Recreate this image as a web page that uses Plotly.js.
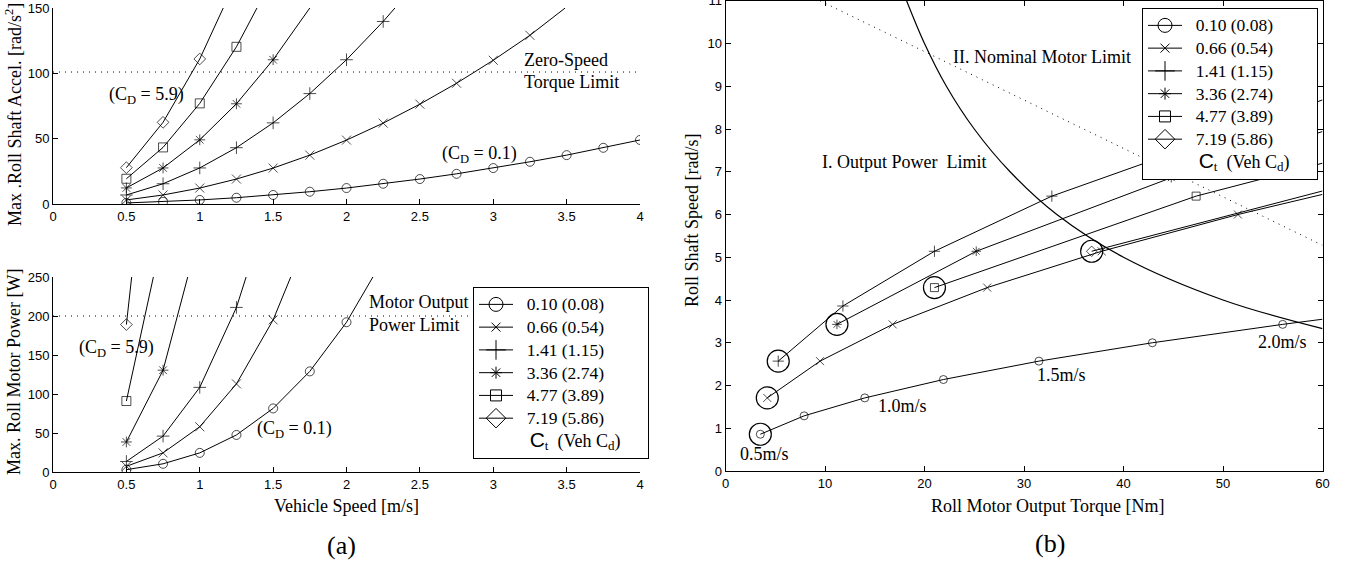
<!DOCTYPE html>
<html><head><meta charset="utf-8">
<script src="https://cdn.plot.ly/plotly-3.0.1.min.js"></script>
<style>html,body{margin:0;padding:0;background:#fff}#chart{width:1348px;height:565px}</style>
</head><body><div id="chart"></div>
<script>
// ---------------- DATA ----------------
const seriesNames = ['0.10 (0.08)','0.66 (0.54)','1.41 (1.15)','3.36 (2.74)','4.77 (3.89)','7.19 (5.86)'];
const footerParts = ['C', 't', '  (Veh C', 'd', ')'];

// (a) top: max roll shaft acceleration [rad/s^2] vs vehicle speed [m/s]
const accelSpeed = [0.5,0.75,1.0,1.25,1.5,1.75,2.0,2.25,2.5,2.75,3.0,3.25,3.5,3.75,4.0];
const accelC010 = [0.8,1.7,3.1,4.8,6.9,9.4,12.2,15.5,19.1,23.1,27.5,32.3,37.4,43.0,49.0];
const accelC066 = [3.1,6.9,12.2,19.1,27.5,37.4,48.9,61.9,76.4,92.4,110,129.1];
const accelC141 = [6.9,15.5,27.6,43.1,62.1,84.5,110.4,139.7];
const accelC336 = [12.3,27.6,49.1,76.7,110.4];
const accelC477 = [19.3,43.3,77.0,120.3];
const accelC719 = [27.8,62.5,111.0];
const accelExitSpeed = [null,3.49,2.33,1.75,1.39,1.16];
const accelExitValue = [null,150,150,150,150,150];
const accelLimit = 101;

// (a) bottom: max roll motor power [W] vs vehicle speed [m/s]
const powerSpeed = [0.5,0.75,1.0,1.25,1.5,1.75,2.0];
const powerC010 = [3.0,10.5,24.5,47.5,81.5,129,192];
const powerC066 = [7.3,24.5,58,113,195];
const powerC141 = [13.5,46,108.5,211];
const powerC336 = [38.5,130.5];
const powerC477 = [91];
const powerC719 = [189];
const powerExitSpeed = [2.18,1.62,1.316,0.918,0.684,0.536];
const powerExitValue = [250,250,250,250,250,250];
const powerLimit = 200;

// (b) roll shaft speed [rad/s] vs roll motor output torque [Nm]
const torqueC010 = [3.5,7.9,14.0,21.9,31.5,42.9,56.0];
const shaftC010  = [0.86,1.29,1.71,2.14,2.57,3.0,3.43];
const torqueC066 = [4.2,9.5,16.8,26.3,37.8,51.5];
const shaftC066  = [1.71,2.57,3.43,4.29,5.14,6.0];
const torqueC141 = [5.3,11.8,21.0,32.8];
const shaftC141  = [2.57,3.86,5.14,6.43];
const torqueC336 = [11.2,25.2,44.8];
const shaftC336  = [3.43,5.14,6.86];
const torqueC477 = [21.0,47.3];
const shaftC477  = [4.29,6.43];
const torqueC719 = [36.8];
const shaftC719  = [5.14];
const torqueEdge = [60,60,60,60,60,60];
const shaftAtEdge = [3.55,6.47,8.68,7.94,7.2,6.55];

// limits in (b)
const powerLimitTorque = [18.2,20,22.2,25,28.6,33.3,40,50,60];
const powerLimitShaft  = [11,10,9,8,7,6,5,4,3.33];
const nominalLimitTorque = [9.5,60];
const nominalLimitShaft  = [11,5.28];

// tick values
const speedTicks = [0,0.5,1,1.5,2,2.5,3,3.5,4];
const accelTicks = [0,50,100,150];
const powerTicks = [0,50,100,150,200,250];
const torqueTicks = [0,10,20,30,40,50,60];
const shaftTicks = [0,1,2,3,4,5,6,7,8,9,10,11];

// ---------------- STYLE / BUILD ----------------
const W = 1348, H = 565;
const px = x => x / W, py = y => 1 - y / H;
const serif = 'Liberation Serif', sans = 'Liberation Sans';
const symbols = ['circle-open','x-thin-open','cross-thin-open','asterisk-open','square-open','diamond-open'];
const legendSymbolSize = [14, 9, 14, 10, 11, 15];
const legendText = n => '<span style="font-size:17.5px">\u00a0\u00a0' + n + '</span>';
const legendFooter =
  '<span style="font-family:Liberation Sans;font-size:21px">\u00a0\u00a0' + footerParts[0] + '</span>' +
  '<sub><span style="font-size:13px">' + footerParts[1] + '</span></sub>' +
  '<span style="font-size:18px">' + footerParts[2] + '</span>' +
  '<sub><span style="font-size:13px">' + footerParts[3] + '</span></sub>' +
  '<span style="font-size:18px">' + footerParts[4] + '\u00a0\u00a0\u00a0\u00a0\u00a0</span>';
const traces = [];

function addSeries(xs, ys, ex, ey, xa, ya, i, msize) {
  const x = xs.slice(0, ys.length), y = ys.slice();
  const size = y.map(() => msize);
  if (ex != null) { x.push(ex); y.push(ey); size.push(0); }
  traces.push({
    type: 'scatter', mode: 'lines+markers', x: x, y: y, xaxis: xa, yaxis: ya,
    showlegend: false,
    line: {color: 'black', width: 1},
    marker: {symbol: symbols[i], size: size, color: 'black', line: {color: 'black', width: 1}},
    hoverinfo: 'skip'
  });
}
function addLegendEntries(legendId, xa, ya) {
  seriesNames.forEach((n, i) => traces.push({
    type: 'scatter', mode: 'lines+markers', x: [null], y: [null], xaxis: xa, yaxis: ya,
    name: legendText(n), showlegend: true, legend: legendId, hoverinfo: 'skip',
    line: {color: 'black', width: 1},
    marker: {symbol: symbols[i], size: legendSymbolSize[i], color: 'black', line: {color: 'black', width: 1}}
  }));
  traces.push({type: 'scatter', mode: 'lines', x: [null], y: [null], xaxis: xa, yaxis: ya,
    name: legendFooter, showlegend: true, legend: legendId,
    line: {color: 'rgba(0,0,0,0)', width: 0}, hoverinfo: 'skip'});
}
function addLine(x, y, xa, ya, dash) {
  traces.push({type: 'scatter', mode: 'lines', x: x, y: y, xaxis: xa, yaxis: ya, showlegend: false,
    line: {color: 'black', width: 1, dash: dash || 'solid', shape: 'linear'}, hoverinfo: 'skip'});
}

// top (a)
const accelSets = [accelC010, accelC066, accelC141, accelC336, accelC477, accelC719];
accelSets.forEach((s, i) => addSeries(accelSpeed, s, accelExitSpeed[i], accelExitValue[i], 'x', 'y', i, 9));
addLine([0, 4], [accelLimit, accelLimit], 'x', 'y', '1px,5px');

// bottom (a)
const powerSets = [powerC010, powerC066, powerC141, powerC336, powerC477, powerC719];
addLine([0, 4], [powerLimit, powerLimit], 'x2', 'y2', '1px,5px');
powerSets.forEach((s, i) => addSeries(powerSpeed, s, powerExitSpeed[i], powerExitValue[i], 'x2', 'y2', i, 9));
addLegendEntries('legend', 'x2', 'y2');

// (b)
addLine(nominalLimitTorque, nominalLimitShaft, 'x3', 'y3', '1px,5px');
traces.push({type: 'scatter', mode: 'lines', x: powerLimitTorque, y: powerLimitShaft, xaxis: 'x3', yaxis: 'y3',
  showlegend: false, line: {color: 'black', width: 1.2, shape: 'spline', smoothing: 1}, hoverinfo: 'skip'});
const torqueSets = [torqueC010, torqueC066, torqueC141, torqueC336, torqueC477, torqueC719];
const shaftSets = [shaftC010, shaftC066, shaftC141, shaftC336, shaftC477, shaftC719];
torqueSets.forEach((t, i) => addSeries(t, shaftSets[i], torqueEdge[i], shaftAtEdge[i], 'x3', 'y3', i, 8));
// big circles around the 0.5 m/s point of each series
traces.push({type: 'scatter', mode: 'markers', x: torqueSets.map(t => t[0]), y: shaftSets.map(s => s[0]),
  xaxis: 'x3', yaxis: 'y3', showlegend: false, hoverinfo: 'skip',
  marker: {symbol: 'circle-open', size: 22, color: 'black', line: {color: 'black', width: 1.2}}});
addLegendEntries('legend2', 'x3', 'y3');

const tickFont = {family: sans, size: 13, color: 'black'};
function axis(domain, range, ticks, anchor, mirror) {
  return {domain: domain, range: range, tickmode: 'array', tickvals: ticks, anchor: anchor,
    showline: true, linecolor: 'black', linewidth: 1, mirror: mirror || false,
    ticks: 'inside', ticklen: 5, tickwidth: 1, tickcolor: 'black', ticklabeloverflow: 'allow',
    showgrid: false, zeroline: false, tickfont: tickFont, fixedrange: true};
}

const annFont = {family: serif, size: 18, color: 'black'};
function ann(text, x, y, xanchor, extra) {
  return Object.assign({text: text, x: px(x), y: py(y), xref: 'paper', yref: 'paper', showarrow: false,
    xanchor: xanchor || 'center', yanchor: 'middle', font: annFont}, extra || {});
}

const legendBase = {bgcolor: 'white', bordercolor: 'black', borderwidth: 1, xanchor: 'left', yanchor: 'top',
  font: {family: serif, size: 15.2, color: 'black'}, itemsizing: 'trace', itemwidth: 34, tracegroupgap: 0,
  itemclick: false, itemdoubleclick: false, xref: 'paper', yref: 'paper'};

const layout = {
  width: W, height: H, margin: {l: 0, r: 0, t: 0, b: 0},
  paper_bgcolor: 'white', plot_bgcolor: 'rgba(0,0,0,0)', showlegend: true,
  xaxis:  axis([px(53), px(640)], [0, 4], speedTicks, 'y'),
  yaxis:  axis([py(204), py(8)], [0, 150], accelTicks, 'x'),
  xaxis2: axis([px(53), px(640)], [0, 4], speedTicks, 'y2'),
  yaxis2: axis([py(472), py(277)], [0, 250], powerTicks, 'x2'),
  xaxis3: axis([px(725.5), px(1322.5)], [0, 60], torqueTicks, 'y3', 'ticks'),
  yaxis3: axis([py(471), py(0.75)], [0, 11], shaftTicks, 'x3', 'ticks'),
  legend:  Object.assign({}, legendBase, {x: px(473), y: py(287)}),
  legend2: Object.assign({}, legendBase, {x: px(1142), y: py(8)}),
  annotations: [
    // axis titles
    ann('Max .Roll Shaft Accel. [rad/s<sup>2</sup>]', 14, 115, 'center', {textangle: -90}),
    ann('Max. Roll Motor Power [W]', 14, 372, 'center', {textangle: -90}),
    ann('Vehicle Speed [m/s]', 346, 506),
    ann('Roll Motor Output Torque [Nm]', 1047, 506),
    ann('Roll Shaft Speed [rad/s]', 692, 221, 'center', {textangle: -90}),
    // (a) top
    ann('(C<sub>D</sub> = 5.9)', 107, 95, 'left'),
    ann('Zero-Speed', 522, 60, 'left'),
    ann('Torque Limit', 522, 82, 'left'),
    ann('(C<sub>D</sub> = 0.1)', 440, 154, 'left'),
    // (a) bottom
    ann('(C<sub>D</sub> = 5.9)', 77, 348, 'left'),
    ann('(C<sub>D</sub> = 0.1)', 255, 429, 'left'),
    ann('Motor Output', 367, 302, 'left'),
    ann('Power Limit', 367, 325, 'left'),
    // (b)
    ann('II. Nominal Motor Limit', 951, 57, 'left'),
    ann('I. Output Power  Limit', 820, 162, 'left'),
    ann('0.5m/s', 738, 454, 'left'),
    ann('1.0m/s', 876, 406, 'left'),
    ann('1.5m/s', 1035, 375, 'left'),
    ann('2.0m/s', 1256, 342, 'left'),
    // panel labels
    ann('(a)', 341, 545, 'center', {font: {family: serif, size: 26, color: 'black'}}),
    ann('(b)', 1050, 543, 'center', {font: {family: serif, size: 26, color: 'black'}})
  ]
};

Plotly.newPlot('chart', traces, layout, {staticPlot: true, displayModeBar: false});
</script>
</body></html>
